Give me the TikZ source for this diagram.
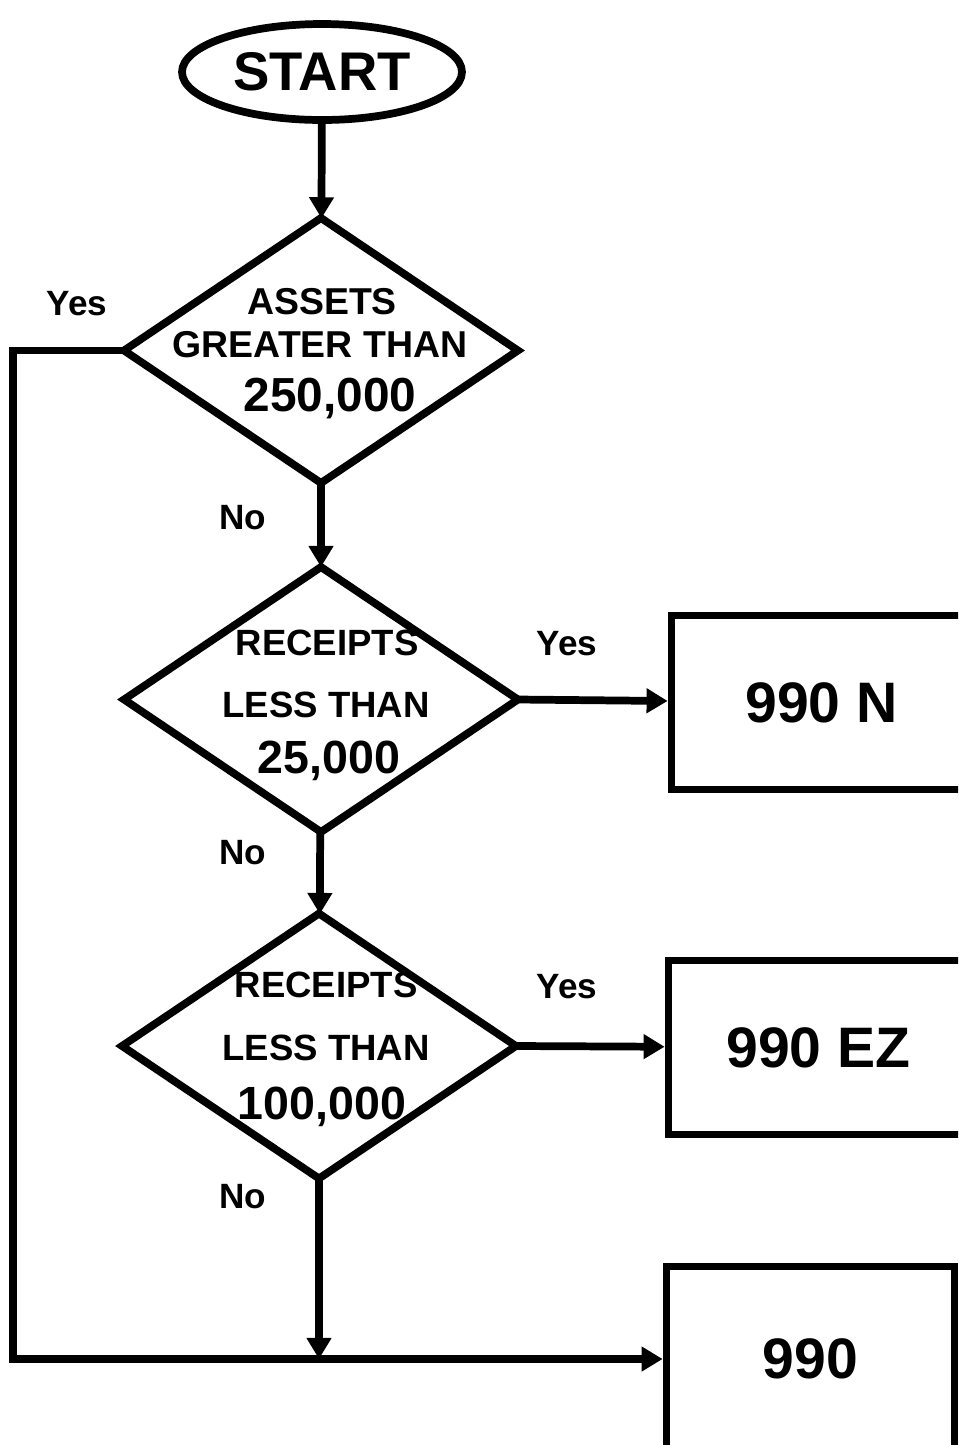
\documentclass[tikz,border=0pt]{standalone}
\usepackage{fontspec}
\setmainfont{Liberation Sans}
\usetikzlibrary{shapes.geometric,arrows.meta}

\begin{document}
\begin{tikzpicture}[x=0.02cm,y=-0.02cm,>={Triangle[length=12pt,width=13.5pt]},line width=4.4pt,
    terminal/.style={ellipse,draw,outer sep=0pt,minimum width=5.6cm,minimum height=1.92cm,inner sep=0pt,font=\fontsize{31}{34}\bfseries},
    decision/.style={diamond,draw,outer sep=0pt,minimum width=7.88cm,minimum height=5.3cm,inner sep=0pt},
    form/.style={rectangle,draw,minimum width=6cm,minimum height=3.48cm,inner sep=0pt,font=\fontsize{32.5}{36}\bfseries},
    line text/.style={anchor=base,inner sep=0pt,font=\fontsize{20.8}{24}\bfseries},
    amount text/.style={anchor=base,inner sep=0pt,font=\fontsize{26.5}{30}\bfseries},
    answer/.style={anchor=base,inner sep=0pt,font=\fontsize{20}{24}\bfseries}]

    \clip (0,0) rectangle (958,1445);

    \node[terminal] (start) at (322,72) {START};

    \node[decision] (assets) at (321,350.5) {};
    \node[line text,font=\fontsize{21.3}{24}\bfseries] (assets1) at (322,314.5) {ASSETS};
    \node[line text,font=\fontsize{21.3}{24}\bfseries] (assets2) at (320,357.5) {GREATER THAN};
    \node[amount text,font=\fontsize{27.2}{30}\bfseries] (assets3) at (330,411) {250,000};

    \node[decision] (small) at (321,699.5) {};
    \node[line text] (small1) at (327,655) {RECEIPTS};
    \node[line text] (small2) at (326,717) {LESS THAN};
    \node[amount text] (small3) at (329,773) {25,000};

    \node[decision] (medium) at (319,1046) {};
    \node[line text] (medium1) at (326,997.5) {RECEIPTS};
    \node[line text] (medium2) at (326,1060.5) {LESS THAN};
    \node[amount text] (medium3) at (322,1119) {100,000};

    \node[form] (formN) at (821.5,702.5) {990 N};
    \node[form] (formEZ) at (818.5,1047.5) {990 EZ};
    \node[form,minimum width=5.76cm,minimum height=3.7cm] (formfull) at (810.5,1359) {990};

    \node[answer] (yes1) at (77,315) {Yes};
    \node[answer] (no1) at (243,529) {No};
    \node[answer] (yes2) at (567,655) {Yes};
    \node[answer] (no2) at (243,864) {No};
    \node[answer] (yes3) at (567,998) {Yes};
    \node[answer] (no3) at (243,1208) {No};

    \coordinate (corner) at (13,1359);
    \coordinate (join) at (medium.south |- corner);

    \path[->]
        (start) edge (assets)
        (assets) edge (small)
        (small) edge (medium)
        (small.east) edge (formN)
        (medium.east) edge (formEZ)
        (medium) edge (join)
        ;
    \draw[->] (assets.west) -| (corner) -- (formfull.west);
\end{tikzpicture}
\end{document}
